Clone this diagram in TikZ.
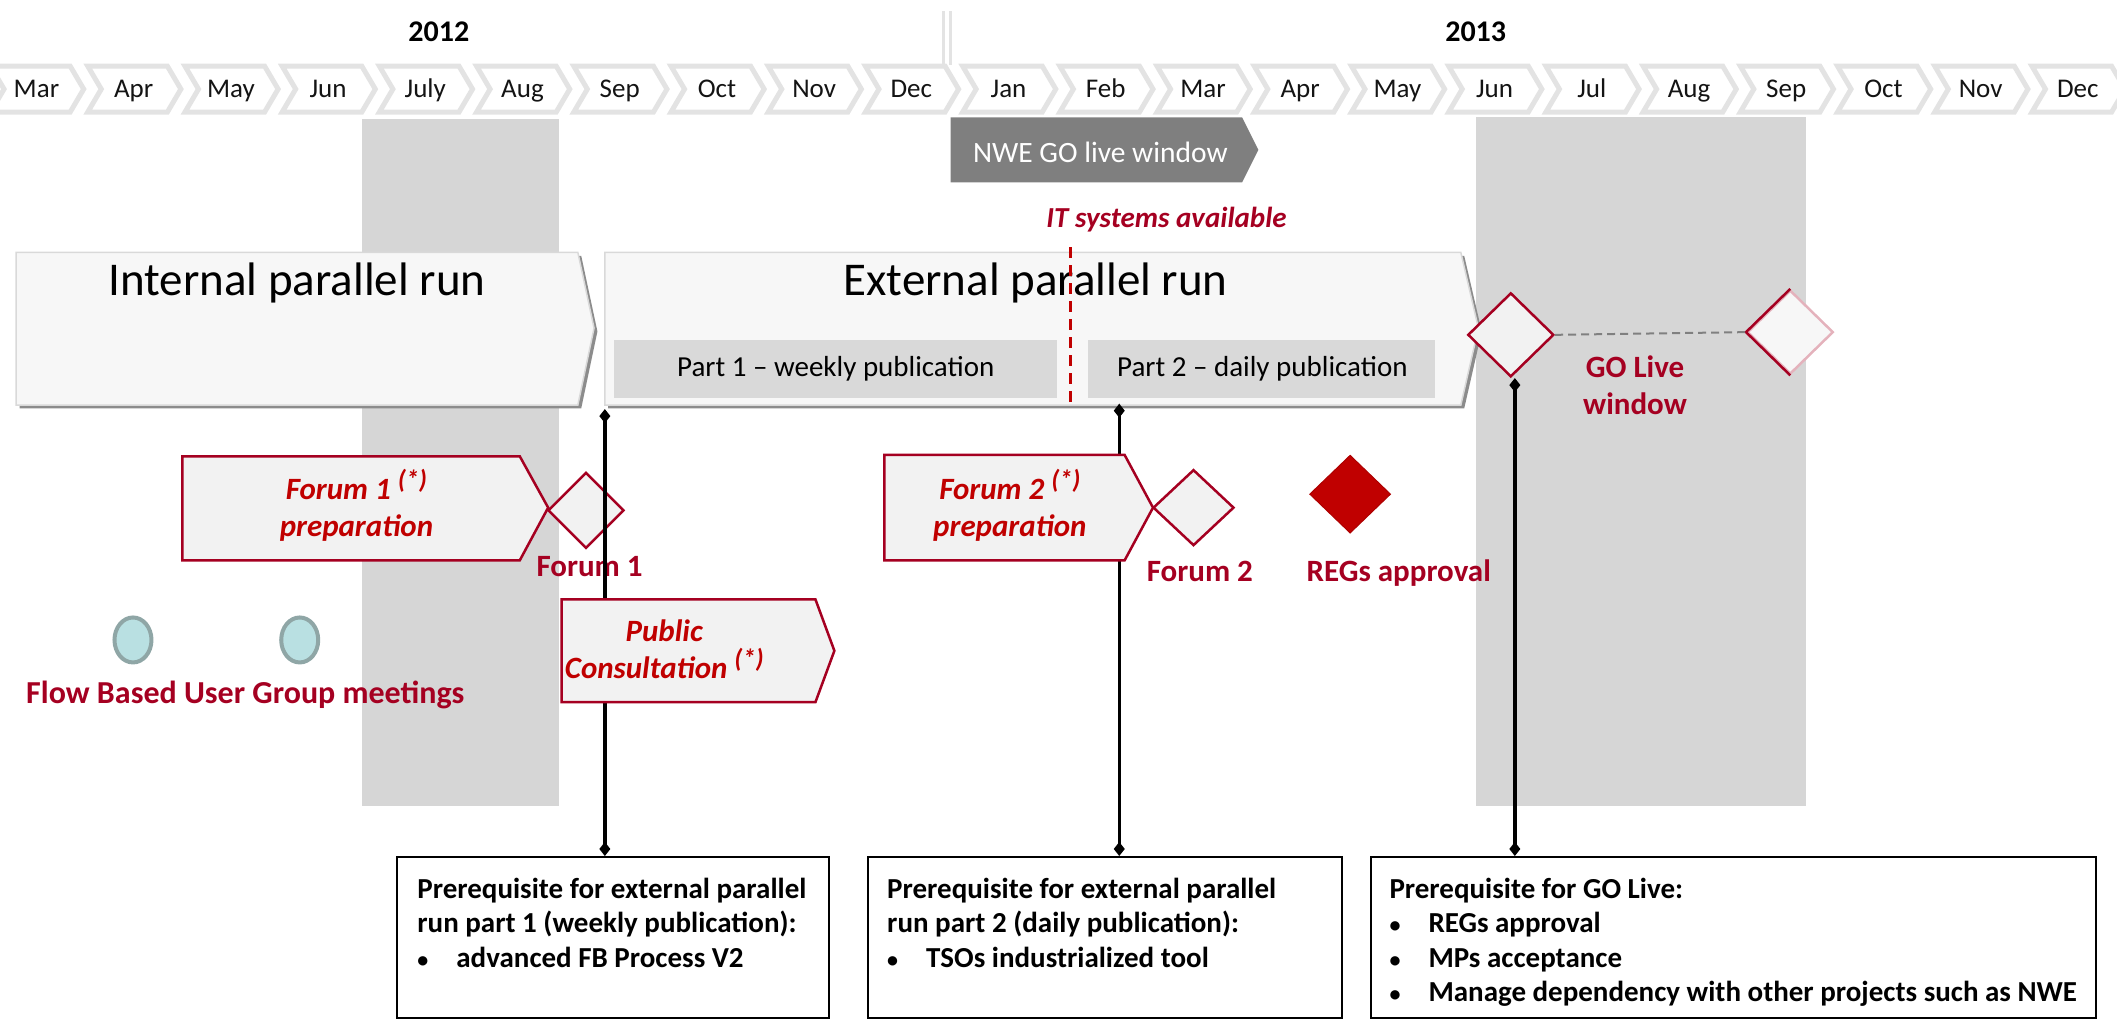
\documentclass[tikz,border=0pt]{standalone}
\usepackage{fontspec}
\setmainfont{Carlito}
\usetikzlibrary{shapes.geometric,arrows.meta,calc}
\definecolor{dred}{HTML}{A50021}
\definecolor{bred}{HTML}{C00000}
\definecolor{band}{HTML}{D6D6D6}
\definecolor{chev}{HTML}{E3E3E3}
\definecolor{runfill}{HTML}{F7F7F7}
\definecolor{runline}{HTML}{D9D9D9}
\definecolor{runshadow}{HTML}{8C8C8C}
\definecolor{partfill}{HTML}{D9D9D9}
\definecolor{prepfill}{HTML}{F2F2F2}
\definecolor{nwe}{HTML}{7F7F7F}
\definecolor{ellfill}{HTML}{B9E0E2}
\definecolor{ellline}{HTML}{8FA6A6}
\newcommand\mybul{\makebox[39pt][l]{\fontsize{22}{22}\selectfont •}}
\newcommand\myast{\smash{\raisebox{0.36em}{\fontsize{26}{26}\selectfont(*)}}}
\begin{document}
\begin{tikzpicture}[x=1.35pt,y=-1.35pt,
  monthtxt/.style={font=\fontsize{27}{30}\selectfont, text=black!92, inner sep=0pt, anchor=base},
  yeartxt/.style={font=\bfseries\fontsize{30}{34}\selectfont, inner sep=0pt, anchor=base},
  chevshape/.style={draw=chev, line width=5pt, fill=white},
  runbox/.style={fill=runfill, draw=runline, line width=1.5pt},
  runshade/.style={fill=runshadow},
  runtitle/.style={font=\fontsize{47}{52}\selectfont, inner sep=0pt, anchor=base},
  parttxt/.style={font=\fontsize{29}{32}\selectfont, inner sep=0pt, anchor=base},
  prepbox/.style={fill=prepfill, draw=dred, line width=2.5pt},
  preptxt/.style={font=\bfseries\itshape\fontsize{31}{37}\selectfont, text=bred, align=center, inner sep=0pt, anchor=north},
  redlbl/.style={font=\bfseries\fontsize{31}{37}\selectfont, text=dred, inner sep=0pt, anchor=base},
  milestone/.style={diamond, draw=dred, line width=2.5pt, fill=prepfill, inner sep=0pt},
  meeting/.style={ellipse, draw=ellline, fill=ellfill, line width=4pt, minimum width=37pt, minimum height=45pt, inner sep=0pt},
  link/.style={line width=3.5pt, arrows={Diamond[length=14pt,width=11pt]-Diamond[length=14pt,width=11pt]}},
  prereq/.style={draw=black, line width=2pt, fill=white, inner sep=0pt, anchor=north west},
  prereqtxt/.style={font=\bfseries\fontsize{29}{34.5}\selectfont, align=left, inner sep=0pt, anchor=north west},
]
\useasboundingbox (0,0) rectangle (1568,758);
\clip (0,0) rectangle (1568,758);

% grey windows
\fill[band] (268,88) rectangle (414,597);
\fill[band] (1093,87) rectangle (1338,597);

% years
\draw[chev, line width=3pt] (698.5,8) -- (698.5,48);
\draw[chev, line width=3pt] (704,8) -- (704,48);
\node[yeartxt] (y2012) at (325,31) {2012};
\node[yeartxt] (y2013) at (1093,31) {2013};

% months
\foreach \m [count=\i from 0] in {Mar,Apr,May,Jun,July,Aug,Sep,Oct,Nov,Dec,Jan,Feb,Mar,Apr,May,Jun,Jul,Aug,Sep,Oct,Nov,Dec} {
  \pgfmathsetmacro\c{27+72*\i}
  \draw[chevshape] (\c-34,49) -- (\c+25,49) -- (\c+35,66) -- (\c+25,83) -- (\c-34,83) -- (\c-24,66) -- cycle;
  \node[monthtxt] (m\i) at (\c,72.5) {\m};
}

% NWE window
\fill[nwe] (704,87) -- (920,87) -- (932,111) -- (920,135) -- (704,135) -- cycle;
\node[font=\fontsize{29.5}{32}\selectfont, text=white, inner sep=0pt, anchor=base] (nwe) at (815,120.5) {NWE GO live window};

% IT systems
\node[font=\bfseries\itshape\fontsize{29}{32}\selectfont, text=dred, inner sep=0pt, anchor=base] (it) at (864,168.6) {IT systems available};

% parallel runs
\fill[runshade, shift={(2.5,2.5)}] (12,187) -- (428,187) -- (440,243) -- (428,300) -- (12,300) -- cycle;
\draw[runbox] (12,187) -- (428,187) -- (440,243) -- (428,300) -- (12,300) -- cycle;
\node[runtitle] (intrun) at (220,219) {Internal parallel run};

\fill[runshade, shift={(2.5,2.5)}] (448,187) -- (1082,187) -- (1095,243) -- (1082,300) -- (448,300) -- cycle;
\draw[runbox] (448,187) -- (1082,187) -- (1095,243) -- (1082,300) -- (448,300) -- cycle;
\node[runtitle] (extrun) at (767,219) {External parallel run};

\fill[partfill] (455,252) rectangle (783,295);
\node[parttxt] (part1) at (619,279) {Part 1 – weekly publication};
\fill[partfill] (806,252) rectangle (1063,295);
\node[parttxt] (part2) at (935,279) {Part 2 – daily publication};

\draw[bred, line width=3.5pt, dash pattern=on 11pt off 7pt] (793,183) -- (793,300);

% milestones
\node[milestone, minimum width=76pt, minimum height=76pt] (f1) at (434,378) {};
\node[milestone, minimum width=81pt, minimum height=76pt] (f2) at (884,376) {};
\node[milestone, fill=bred, draw=bred!90!black, line width=1pt, minimum width=81pt, minimum height=78pt] (reg) at (1000,366) {};
\node[milestone, minimum width=86pt, minimum height=84pt] (go1) at (1119,248) {};
\node[milestone, draw=dred!30, fill=white!97!black, minimum width=86pt, minimum height=84pt] (go2) at (1326,246) {};
\draw[dred, line width=2.5pt] (go2.south) -- (go2.west) -- (go2.north);
\draw[gray, line width=2pt, dash pattern=on 8pt off 5pt] (go1.east) -- (go2.west);

\node[redlbl] (f1l) at (436.7,426.7) {Forum 1};
\node[redlbl] (f2l) at (888.7,430.9) {Forum 2};
\node[redlbl] (regl) at (1036,431) {REGs approval};
\node[redlbl, anchor=north, align=center] (gol) at (1211,263) {GO Live\\window};

% meetings
\node[meeting] (e1) at (98.5,474) {};
\node[meeting] (e2) at (222,474) {};
\node[redlbl, font=\bfseries\fontsize{32}{37}\selectfont] (fbug) at (181.7,520.9) {Flow Based User Group meetings};

% prerequisite boxes
\node[prereq, minimum width=432pt, minimum height=160.6pt] (b1) at (293,634) {};
\node[prereq, minimum width=473.9pt, minimum height=160.6pt] (b2) at (642,634) {};
\node[prereq, minimum width=725pt, minimum height=160.6pt] (b3) at (1015,634) {};

\node[prereqtxt] (b1t) at ($(b1.north west)+(16,16)$) {Prerequisite for external parallel\\run part 1 (weekly publication):\\\mybul advanced FB Process V2};
\node[prereqtxt] (b2t) at ($(b2.north west)+(15,16)$) {Prerequisite for external parallel\\run part 2 (daily publication):\\\mybul TSOs industrialized tool};
\node[prereqtxt] (b3t) at ($(b3.north west)+(14,16)$) {Prerequisite for GO Live:\\\mybul REGs approval\\\mybul MPs acceptance\\\mybul Manage dependency with other projects such as NWE};

% connectors
\coordinate (t1) at (448,303);
\coordinate (t2) at (829,299);
\coordinate (t3) at ($(go1.south)+(3,0)$);
\draw[link] (t1) -- (t1 |- b1.north);
\draw[link] (t2) -- (t2 |- b2.north);
\draw[link] (t3) -- (t3 |- b3.north);

% preparation arrows (on top of connectors)
\draw[prepbox] (135,338) -- (385,338) -- (406,376) -- (385,415) -- (135,415) -- cycle;
\node[preptxt] (f1p) at (264,355) {Forum 1 \myast\\preparation};
\draw[prepbox] (655,337) -- (833,337) -- (854,376) -- (833,415) -- (655,415) -- cycle;
\node[preptxt] (f2p) at (748,355) {Forum 2 \myast\\preparation};
\draw[prepbox] (416,444) -- (604,444) -- (618,482) -- (604,520) -- (416,520) -- cycle;
\node[preptxt] (pc) at (492,459) {Public\\Consultation \myast};
\end{tikzpicture}
\end{document}
